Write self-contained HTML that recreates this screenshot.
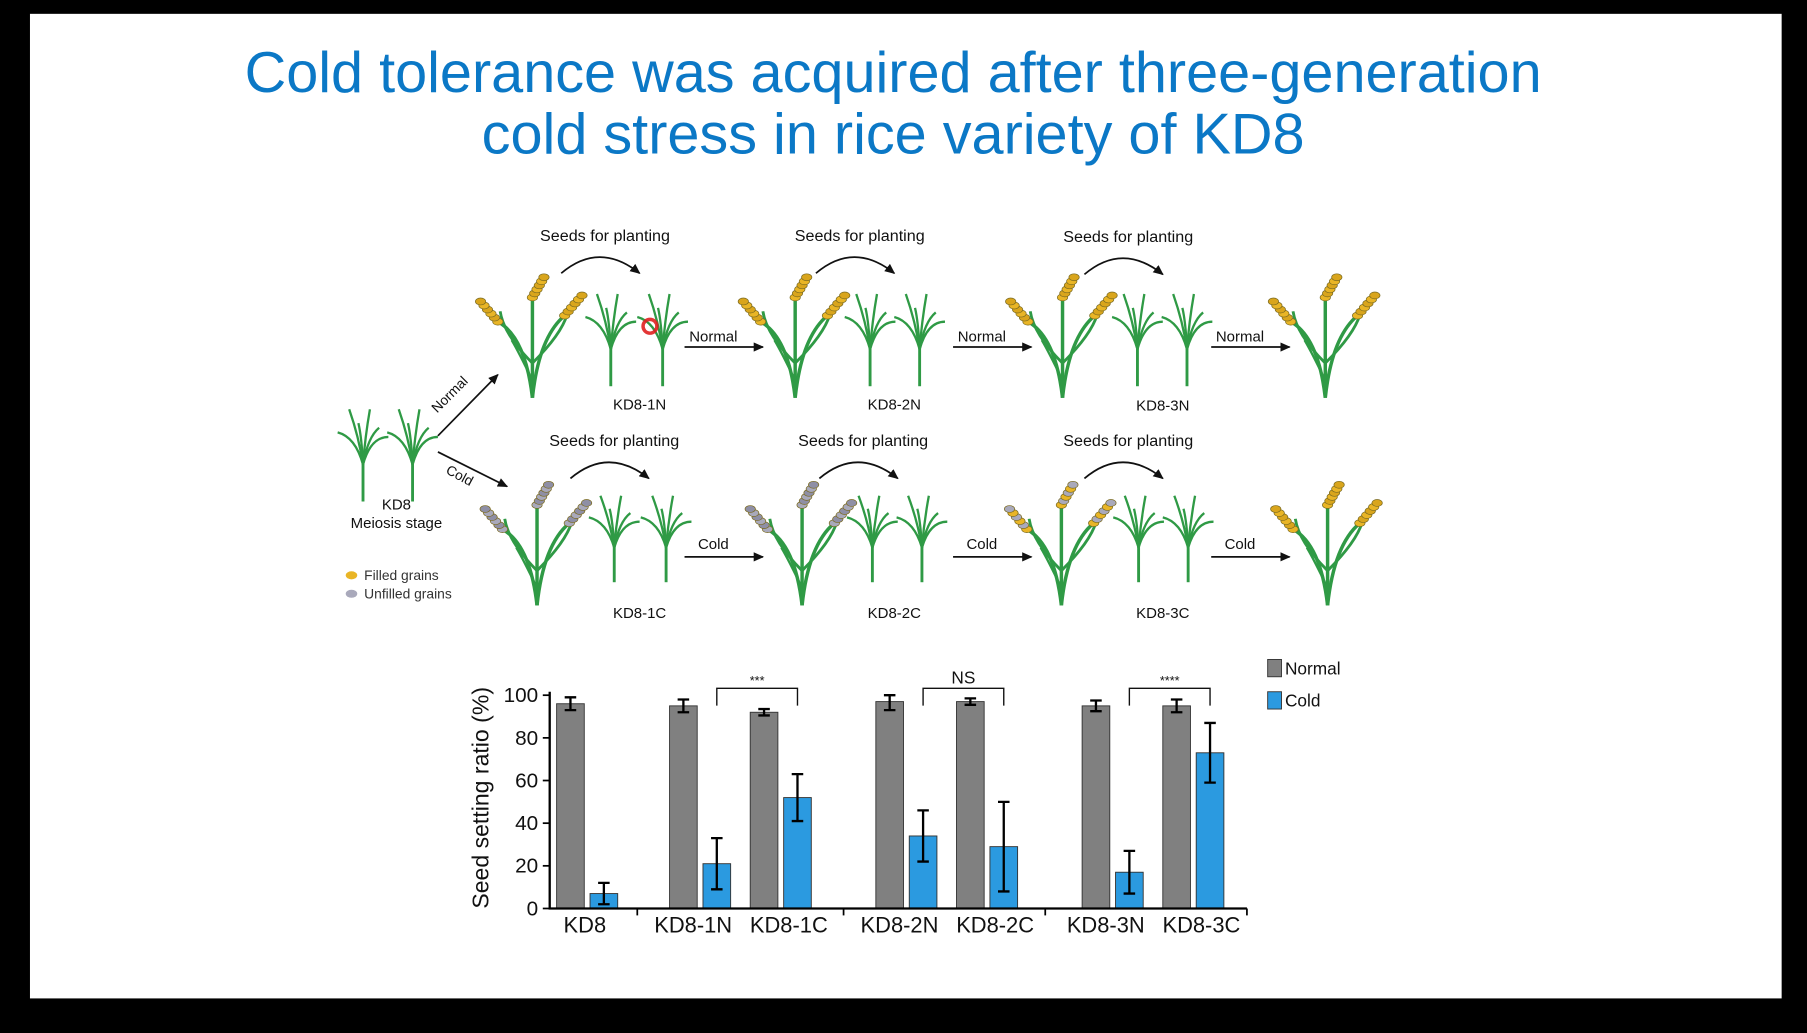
<!DOCTYPE html>
<html><head><meta charset="utf-8"><style>
html,body{margin:0;padding:0;background:#000;}
svg{display:block;font-family:"Liberation Sans",Arial,sans-serif;}
</style></head><body>
<svg id="s" width="1807" height="1033" viewBox="0 0 1568 896" preserveAspectRatio="none">
<rect x="0" y="0" width="1568" height="896" fill="#000"/>
<rect x="26" y="12" width="1520" height="854" fill="#fff"/>
<text x="775" y="80" text-anchor="middle" font-size="50" fill="#0b78c6">Cold tolerance was acquired after three-generation</text>
<text x="775" y="133" text-anchor="middle" font-size="50" fill="#0b78c6">cold stress in rice variety of KD8</text>
<g id="diagram"></g>
<g id="chart"></g>
</svg>
<script>
const NS="http://www.w3.org/2000/svg";
function el(p,t,a){const e=document.createElementNS(NS,t);for(const k in a)e.setAttribute(k,a[k]);p.appendChild(e);return e;}
function txt(p,x,y,s,size,anchor,extra){const e=el(p,'text',Object.assign({x:x,y:y,'font-size':size,'text-anchor':anchor||'middle',fill:'#111'},extra||{}));e.textContent=s;return e;}
const D=document.getElementById('diagram');
const defs=el(D,'defs',{});
const marker=el(defs,'marker',{id:'ah',markerWidth:10,markerHeight:10,refX:8,refY:4,orient:'auto',markerUnits:'userSpaceOnUse'});
el(marker,'path',{d:'M0,0 L9,4 L0,8 Z',fill:'#111'});
function seedling(x,base,h){const g=el(D,'g',{});
 const c='#2f9a45';
 el(g,'path',{d:`M${x},${base} L${x},${base-h*0.55}`,stroke:c,'stroke-width':2.5,fill:'none'});
 const tips=[[-22,-0.75],[-12,-1],[-4,-0.85],[6,-1],[14,-0.8],[22,-0.7]];
 tips.forEach(t=>el(g,'path',{d:`M${x},${base-h*0.4} Q${x+t[0]*0.3},${base-h*0.7} ${x+t[0]},${base+h*t[1]}`,stroke:c,'stroke-width':2,fill:'none'}));
 return g;}
function flower(x,base,top,col){const g=el(D,'g',{});
 const c='#2f9a45';
 const stems=[[-30,0.8],[0,1],[28,0.85]];
 stems.forEach(s=>el(g,'path',{d:`M${x},${base} Q${x+s[0]*0.2},${base-(base-top)*0.5} ${x+s[0]},${top+(base-top)*(1-s[1])+18}`,stroke:c,'stroke-width':3,fill:'none'}));
 el(g,'path',{d:`M${x},${base-30} Q${x-25},${base-55} ${x-28},${base-75}`,stroke:c,'stroke-width':2.5,fill:'none'});
 el(g,'path',{d:`M${x},${base-30} Q${x+25},${base-55} ${x+30},${base-72}`,stroke:c,'stroke-width':2.5,fill:'none'});
 el(g,'path',{d:`M${x},${base-15} Q${x-12},${base-40} ${x-18},${base-50}`,stroke:c,'stroke-width':2,fill:'none'});
 stems.forEach((s,i)=>{const px=x+s[0],py=top+(base-top)*(1-s[1])+18;
  for(let k=0;k<6;k++){
   el(g,'ellipse',{cx:px+(i==1?k*2:(s[0]<0?-k*3:k*3)),cy:py-k*3.5,rx:4.5,ry:3,fill:col[k%col.length],stroke:'#7a6a20','stroke-width':0.6});}
 });
 return g;}
const Y=['#e9b526','#d9a51c'],G=['#a9a9bb','#8f8fa5'],M=['#e9b526','#a9a9bb'];
flower(462,345,240,Y);seedling(530,335,80);seedling(575,335,80);
flower(690,345,240,Y);seedling(755,335,80);seedling(798,335,80);
flower(922,345,240,Y);seedling(987,335,80);seedling(1030,335,80);
flower(1150,345,240,Y);
flower(466,525,420,G);seedling(533,505,75);seedling(578,505,75);
flower(696,525,420,G);seedling(757,505,75);seedling(800,505,75);
flower(921,525,420,M);seedling(988,505,75);seedling(1031,505,75);
flower(1152,525,420,Y);
seedling(315,435,80);seedling(358,435,80);
[[525,209],[746,209],[979,210],[533,387],[749,387],[979,387]].forEach(p=>{
 const t=txt(D,p[0],p[1],'Seeds for planting',14);
 
 el(D,'path',{d:`M${p[0]-38},${p[1]+28} Q${p[0]-5},${p[1]} ${p[0]+30},${p[1]+28}`,stroke:'#111','stroke-width':1.5,fill:'none','marker-end':'url(#ah)'});});
[['KD8-1N',555,355],['KD8-2N',776,355],['KD8-3N',1009,356],['KD8-1C',555,536],['KD8-2C',776,536],['KD8-3C',1009,536]].forEach(p=>{
 const t=txt(D,p[1],p[2],p[0],13);});
[594,827,1051].forEach(x=>{
 el(D,'line',{x1:x,y1:301,x2:x+68,y2:301,stroke:'#111','stroke-width':1.5,'marker-end':'url(#ah)'});
 txt(D,x+25,296,'Normal',13);
 el(D,'line',{x1:x,y1:483,x2:x+68,y2:483,stroke:'#111','stroke-width':1.5,'marker-end':'url(#ah)'});
 txt(D,x+25,476,'Cold',13);});
el(D,'line',{x1:380,y1:378,x2:432,y2:325,stroke:'#111','stroke-width':1.5,'marker-end':'url(#ah)'});
txt(D,393,345,'Normal',12,'middle',{transform:'rotate(-45 393 345)'});
el(D,'line',{x1:380,y1:392,x2:440,y2:422,stroke:'#111','stroke-width':1.5,'marker-end':'url(#ah)'});
txt(D,397,416,'Cold',12,'middle',{transform:'rotate(28 397 416)'});
txt(D,344,442,'KD8',13);txt(D,344,458,'Meiosis stage',13);
el(D,'ellipse',{cx:305,cy:499,rx:5,ry:3.5,fill:'#e9b526'});txt(D,316,503,'Filled grains',12,'start',{fill:'#333'});
el(D,'ellipse',{cx:305,cy:515,rx:5,ry:3.5,fill:'#a9a9bb'});txt(D,316,519,'Unfilled grains',12,'start',{fill:'#333'});
el(D,'circle',{cx:564,cy:283,r:6,fill:'none',stroke:'#e02020','stroke-width':3,opacity:0.9});
</script>
<script>
const categories=['KD8','KD8-1N','KD8-1C','KD8-2N','KD8-2C','KD8-3N','KD8-3C'];
const normalVals=[96,95,92,97,97,95,95];
const normalErr=[3,3,1.5,4,1.5,2.5,3];
const coldVals=[7,21,52,34,29,17,73];
const coldErr=[5,12,11,12,21,10,14];
const yTicks=[0,20,40,60,80,100];
const sigLabels=['***','NS','****'];
const C=document.getElementById('chart');
const y0=788,yTop=603;
function yS(v){return y0-(v/100)*(y0-yTop);}
function xC(i){return 509.5+i*70+(i>=1?28:0)+(i>=3?39:0)+(i>=5?39:0);}
function labelShift(i){return i==0?-2:(i%2==1?-6:7);}
const bw=24,off=14.5;
function cm(t,a){const e=document.createElementNS("http://www.w3.org/2000/svg",t);for(const k in a)e.setAttribute(k,a[k]);C.appendChild(e);return e;}
categories.forEach((c,i)=>{
 const cx=xC(i);
 [[normalVals[i],normalErr[i],'#808080',-off,'normal'],[coldVals[i],coldErr[i],'#2b9ae0',off,'cold']].forEach(s=>{
  const x=cx+s[3];
  const r=cm('rect',{x:x-bw/2,y:yS(s[0]),width:bw,height:y0-yS(s[0]),fill:s[2],stroke:'#333','stroke-width':0.8});
  
  
  const top=Math.min(100,s[0]+s[1]),bot=Math.max(0,s[0]-s[1]);
  const e=cm('path',{d:`M${x},${yS(top)}V${yS(bot)}M${x-5},${yS(top)}h10M${x-5},${yS(bot)}h10`,stroke:'#000','stroke-width':2,fill:'none'});
  
  
 });
 const t=cm('text',{x:cx+labelShift(i),y:809,'font-size':19,'text-anchor':'middle',fill:'#111'});t.textContent=c;
 
 
});
const ax=cm('path',{d:`M477,${yTop-3}V${y0}H1082`,stroke:'#000','stroke-width':2,fill:'none'});


[553,732,907,1082].forEach(x=>cm('line',{x1:x,y1:y0,x2:x,y2:y0+6,stroke:'#000','stroke-width':1.5}));
yTicks.forEach(v=>{
 cm('line',{x1:471,y1:yS(v),x2:477,y2:yS(v),stroke:'#000','stroke-width':1.5});
 const t=cm('text',{x:467,y:yS(v)+6,'font-size':18,'text-anchor':'end',fill:'#111'});t.textContent=v;
 
 
});
const yt=cm('text',{x:424,y:692,'font-size':20,'text-anchor':'middle',fill:'#111',transform:'rotate(-90 424 692)'});
yt.textContent='Seed setting ratio (%)';


[[1,2],[3,4],[5,6]].forEach((p,k)=>{
 const xa=xC(p[0])+off,xb=xC(p[1])+off;
 cm('path',{d:`M${xa},612V597H${xb}V612`,stroke:'#111','stroke-width':1.2,fill:'none'});
 const t=cm('text',{x:(xa+xb)/2,y:sigLabels[k]=='NS'?593:594,'font-size':sigLabels[k]=='NS'?15:11,'text-anchor':'middle',fill:'#111'});
 t.textContent=sigLabels[k];
 
 
});
[['Normal','#808080',572],['Cold','#2b9ae0',600]].forEach(l=>{
 const r=cm('rect',{x:1100,y:l[2],width:12,height:15,fill:l[1],stroke:'#333','stroke-width':0.8});
 
 
 const t=cm('text',{x:1115,y:l[2]+13,'font-size':15,fill:'#111'});t.textContent=l[0];
 
 
});
</script>
</body></html>
